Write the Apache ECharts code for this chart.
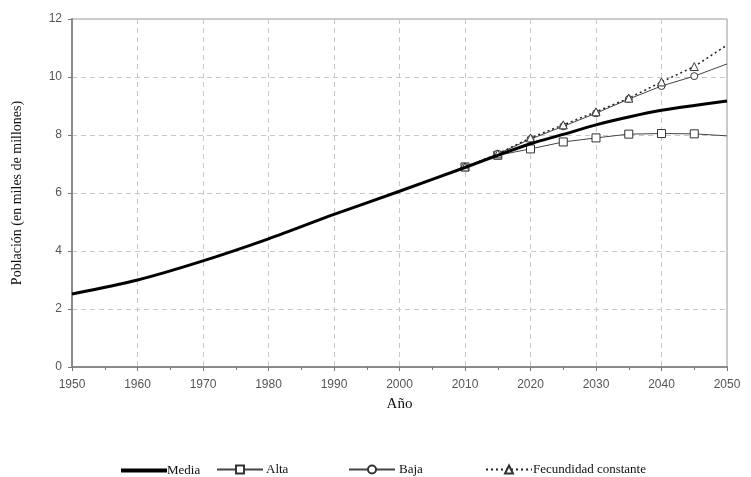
<!DOCTYPE html>
<html><head><meta charset="utf-8">
<script src="https://cdn.jsdelivr.net/npm/echarts@6/dist/echarts.min.js"></script>
<style>html,body{margin:0;padding:0;background:#fff}#c{width:751px;height:477px}</style>
</head><body><div id="c"></div>
<script>
const mediaYears = [1950,1960,1970,1980,1990,2000,2010,2015,2020,2025,2030,2035,2040,2045,2050];
const mediaVals  = [2.52,3.00,3.66,4.42,5.26,6.06,6.88,7.30,7.70,8.02,8.35,8.62,8.85,9.02,9.17];
const projYears = [2010,2015,2020,2025,2030,2035,2040,2045,2050];
const altaVals  = [6.90,7.30,7.52,7.76,7.90,8.03,8.05,8.04,7.97];
const bajaVals  = [6.90,7.35,7.86,8.30,8.75,9.24,9.69,10.03,10.45];
const fecVals   = [6.90,7.35,7.90,8.35,8.80,9.27,9.83,10.36,11.10];
const xTicks = [1950,1960,1970,1980,1990,2000,2010,2020,2030,2040,2050];

function pts(xs, ys, markLast){
  return xs.map((x,i)=>{
    const d = {value:[x, ys[i]]};
    if(!markLast && i===xs.length-1) d.symbol='none';
    return d;
  });
}
const chart = echarts.init(document.getElementById('c'));
const serif = '"Liberation Serif","Times New Roman",serif';
const sans = '"Liberation Sans",Arial,sans-serif';
const lt = {fontFamily:serif,fontSize:13,color:'#111'};
const mk = {color:'#fff',borderColor:'#333',borderWidth:1};
chart.setOption({
  animation:false,
  grid:{left:72,right:24,top:19,bottom:110,containLabel:false,outerBoundsMode:'none',show:true,borderColor:'#9a9a9a',borderWidth:1,backgroundColor:'transparent'},
  xAxis:{type:'value',min:1950,max:2050,interval:10,
    name:'Año',nameLocation:'middle',nameGap:30,nameTextStyle:{fontFamily:serif,fontSize:15,color:'#111'},
    axisLine:{lineStyle:{color:'#8a8a8a',width:2}},
    axisTick:{show:true,length:4,lineStyle:{color:'#777'}},
    minorTick:{show:true,splitNumber:2,length:3,lineStyle:{color:'#777'}},
    axisLabel:{fontFamily:sans,fontSize:12,color:'#555',margin:12,
      formatter:v=>xTicks.includes(v)?String(v):''},
    splitLine:{show:true,lineStyle:{color:'#c8c8c8',type:[5,4]}}},
  yAxis:{type:'value',min:0,max:12,interval:2,
    name:'Población (en miles de millones)',nameLocation:'middle',nameGap:48,nameRotate:90,
    nameTextStyle:{fontFamily:serif,fontSize:14,color:'#111'},
    axisLine:{show:true,lineStyle:{color:'#8a8a8a',width:2}},
    axisTick:{show:true,length:4,lineStyle:{color:'#777'}},
    axisLabel:{fontFamily:sans,fontSize:12,color:'#555',margin:10},
    splitLine:{show:true,lineStyle:{color:'#c8c8c8',type:[5,4]}}},
  legend:[
    {data:[{name:'Media',icon:'rect'}],left:116,top:459,itemWidth:46,itemHeight:4,textStyle:Object.assign({padding:[0,0,0,-5]},lt)},
    {data:['Alta'],left:211,top:458,itemWidth:46,itemHeight:10,textStyle:Object.assign({padding:[0,0,0,-2]},lt)},
    {data:['Baja'],left:343,top:458,itemWidth:46,itemHeight:10,textStyle:Object.assign({padding:[0,0,0,-1]},lt)},
    {data:['Fecundidad constante'],left:480,top:458,itemWidth:46,itemHeight:10,textStyle:Object.assign({padding:[0,0,0,-4]},lt)}
  ],
  series:[
    {name:'Alta',type:'line',data:pts(projYears,altaVals,false),symbol:'rect',symbolSize:8,showAllSymbol:true,
      lineStyle:{color:'#444',width:1},itemStyle:mk,z:3},
    {name:'Baja',type:'line',data:pts(projYears,bajaVals,false),symbol:'circle',symbolSize:7,showAllSymbol:true,
      lineStyle:{color:'#444',width:1},itemStyle:mk,z:3},
    {name:'Fecundidad constante',type:'line',data:pts(projYears,fecVals,false),symbol:'triangle',symbolSize:8,showAllSymbol:true,
      lineStyle:{color:'#222',width:1.5,type:[2,3]},itemStyle:mk,z:3},
    {name:'Media',type:'line',data:pts(mediaYears,mediaVals,true),symbol:'none',smooth:0.3,
      lineStyle:{color:'#000',width:3},itemStyle:{color:'#000'},z:4}
  ]
});
</script></body></html>
